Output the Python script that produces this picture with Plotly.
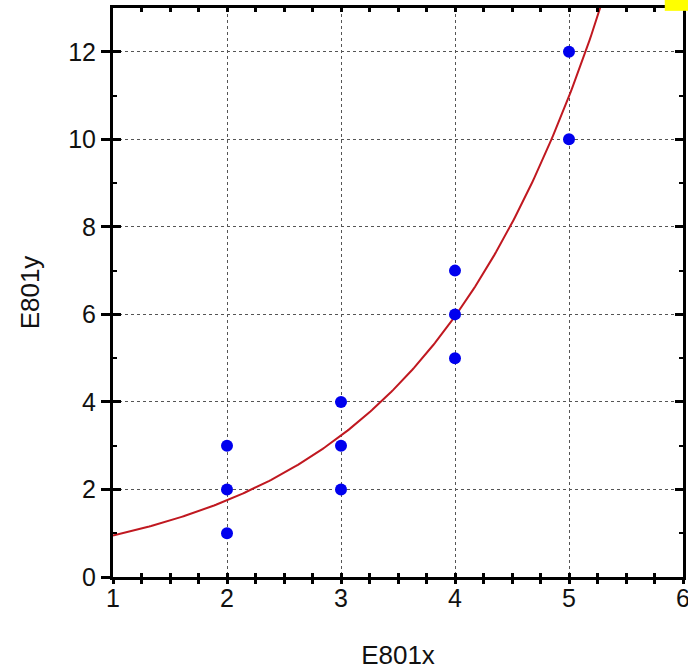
import numpy as np
import plotly.graph_objects as go

# Observations
x_obs = [2, 2, 2, 3, 3, 3, 4, 4, 4, 5, 5]
y_obs = [1, 2, 3, 2, 3, 4, 5, 6, 7, 10, 12]

# Exponential fit y = a * exp(b * x)
fit_a = 0.515
fit_b = 0.612

x_ticks = [1, 2, 3, 4, 5, 6]
y_ticks = [0, 2, 4, 6, 8, 10, 12]

x_fit = np.linspace(1, 6, 300)
y_fit = fit_a * np.exp(fit_b * x_fit)

FONT = "Liberation Sans, Arial, sans-serif"

fig = go.Figure()
fig.add_trace(go.Scatter(
    x=x_fit, y=y_fit, mode="lines",
    line=dict(color="#c01820", width=2),
    hoverinfo="skip", showlegend=False,
))
fig.add_trace(go.Scatter(
    x=x_obs, y=y_obs, mode="markers",
    marker=dict(color="#0000ee", size=12, line=dict(width=0)),
    showlegend=False,
))
# invisible trace so the inner tick axes are drawn
fig.add_trace(go.Scatter(x=[1], y=[0], xaxis="x2", yaxis="y2",
                         mode="markers", marker=dict(opacity=0),
                         hoverinfo="skip", showlegend=False))

fig.update_layout(
    width=688, height=671,
    margin=dict(l=113, r=5, t=8, b=94, autoexpand=False),
    paper_bgcolor="white", plot_bgcolor="white",
    font=dict(family=FONT, size=25, color="#111"),
    xaxis=dict(
        range=[1, 6], tickvals=x_ticks, ticktext=[str(v) for v in x_ticks],
        automargin=False, ticklabeloverflow="allow",
        showline=True, linecolor="black", linewidth=3, mirror=True,
        ticks="outside", ticklen=4, tickwidth=3, tickcolor="black",
        ticklabelstandoff=-7,
        minor=dict(dtick=0.25, ticks="outside", ticklen=4, tickwidth=3,
                   tickcolor="black", showgrid=False),
        showgrid=True, gridcolor="#555", griddash="dot", gridwidth=1,
        zeroline=False,
        title=dict(text="E801x", font=dict(size=26), standoff=35),
        tickfont=dict(size=25),
    ),
    yaxis=dict(
        range=[0, 13], tickvals=y_ticks, ticktext=[str(v) for v in y_ticks],
        automargin=False,
        showline=True, linecolor="black", linewidth=3, mirror=True,
        ticks="outside", ticklen=9, tickwidth=3, tickcolor="black",
        showgrid=True, gridcolor="#555", griddash="dot", gridwidth=1,
        zeroline=False,
        title=dict(text="E801y", font=dict(size=26), standoff=22),
        tickfont=dict(size=25),
    ),
    xaxis2=dict(
        overlaying="x", anchor="y", range=[1, 6], tickvals=x_ticks,
        automargin=False,
        showticklabels=False, showgrid=False, zeroline=False, showline=False,
        ticks="inside", ticklen=4, tickwidth=3, tickcolor="black",
        mirror="ticks",
        minor=dict(dtick=0.25, ticks="inside", ticklen=4, tickwidth=3,
                   tickcolor="black", showgrid=False),
    ),
    yaxis2=dict(
        overlaying="y", anchor="x", range=[0, 13], tickvals=y_ticks,
        automargin=False,
        showticklabels=False, showgrid=False, zeroline=False, showline=False,
        ticks="inside", ticklen=8, tickwidth=3, tickcolor="black",
        mirror="ticks",
        minor=dict(dtick=1, ticks="inside", ticklen=4, tickwidth=2,
                   tickcolor="black", showgrid=False),
    ),
    shapes=[dict(type="rect", xref="paper", yref="paper",
                 x0=0.968, x1=1.01, y0=0.995, y1=1.02,
                 fillcolor="#ffff00", line=dict(width=0), layer="above")],
)

fig.write_html("out.html")
